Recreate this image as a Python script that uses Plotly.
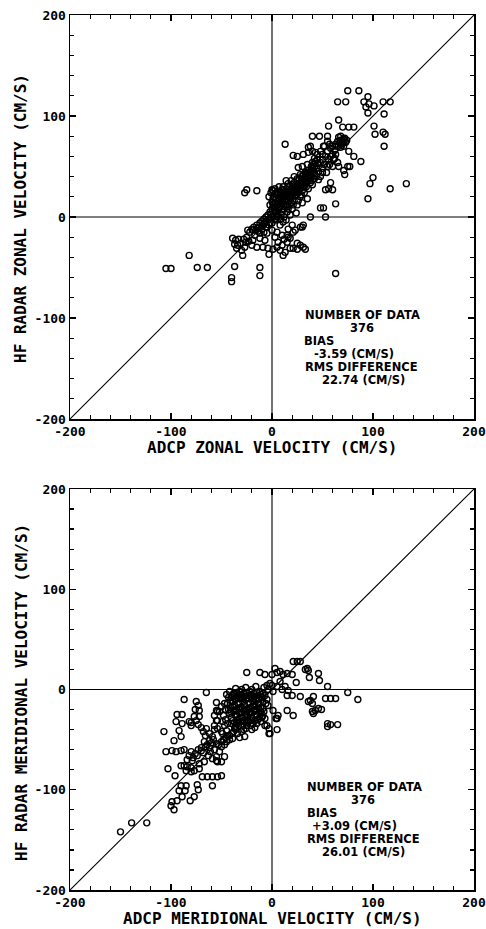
import plotly.graph_objects as go

# ---------------- data ----------------
# Top panel: (ADCP zonal, HF radar zonal) in cm/s
zonal_points = [
    (75,125),(86,125),(65,114),(73,114),(95,119),(91,114),(96,112),(93,109),(101,110),(110,114),
    (117,114),(95,103),(111,102),(66,96),(56,90),(70,89),(76,89),(81,89),(101,90),(110,84),
    (112,82),(102,82),(111,70),(68,80),(70,75),(71,70),(13,72),(40,80),(47,80),(55,80),
    (55,75),(51,70),(76,65),(81,60),(88,55),(75,50),(72,42),(77,50),(71,46),(100,39),
    (97,33),(133,33),(117,28),(95,18),(63,13),(60,27),(53,27),(56,28),(58,34),(48,9),
    (51,9),(38,0),(53,0),(-27,24),(-25,27),(-15,26),
    (-105,-51),(-100,-51),(-82,-38),(-74,-50),(-64,-50),(-37,-49),(-40,-60),(-40,-64),
    (-12,-50),(-12,-58),(63,-56),
    (21,61),(25,60),(31,62),(36,64),(43,64),(48,65),(38,70),(26,49),(30,50),(35,52),
    (40,54),(45,53),(28,42),(33,44),(38,45),(48,54),(50,57),(53,60),(58,60),(56,57),
    (61,57),(65,54),(66,50),(36,69),(40,65),(45,62),(50,62),(55,65),(58,68),(60,70),
    (62,66),(57,72),(52,70),(63,72),(65,75),(68,76),(70,73),(72,78),(66,79),(69,71),
    (73,74),(60,62),(62,58),(45,57),(42,58),(44,48),(46,45),(42,50),(40,46),(50,48),
    (52,52),(55,50),(54,44),(48,40),(44,40),(41,38),(36,40),(32,38),(30,34),(34,36),
    (38,36),(46,37),(50,44),(57,52),(63,62),(60,50),(25,38),(28,30),
    (-4,2),(-2,5),(0,8),(2,10),(3,14),(4,18),(5,22),(6,25),(2,20),(0,15),
    (-2,12),(1,26),(3,28),(5,12),(7,16),(8,20),(9,24),(10,27),(11,18),(12,22),
    (13,25),(14,28),(15,20),(16,24),(17,30),(18,26),(19,22),(20,32),(21,28),(22,34),
    (23,30),(24,26),(25,36),(26,32),(27,38),(28,34),(29,40),(30,36),(31,42),(32,30),
    (33,38),(34,44),(35,40),(36,46),(38,42),(40,48),(42,44),(8,10),(10,14),(12,8),
    (14,12),(16,16),(18,18),(20,20),(22,16),(24,22),(26,24),(28,20),(30,26),(32,24),
    (34,30),(36,28),(38,34),(40,32),(42,38),(10,5),(15,5),(20,8),(25,12),(30,14),
    (35,18),(12,0),(6,3),(18,2),(24,4),(-3,20),(-1,24),(0,27),(4,6),(7,9),
    (9,2),(13,16),(17,12),(21,12),(26,16),(29,22),(31,30),(33,34),(37,38),(16,33),
    (19,36),(22,40),(14,36),(11,30),(7,30),(4,24),(1,18),(-1,0),(3,-2),(27,28),
    (23,24),(19,14),(15,10),
    (1,12),(3,6),(5,9),(7,13),(9,17),(11,21),(13,20),(15,24),(17,26),(19,28),
    (21,24),(23,27),(25,30),(27,33),(29,35),(31,38),(33,41),(35,43),(37,44),(39,50),
    (41,52),(43,55),(6,19),(8,23),(10,21),(14,18),(18,22),(22,25),(26,29),(30,32),
    (34,35),(39,40),(-1,3),(2,1),(5,0),(-3,-2),(16,8),(12,12),(-6,-4),(-8,-6),
    (-10,-9),(-13,-10),(-16,-13),(64,70),(67,73),(71,77),(68,69),(74,76),
    (-39,-21),(-36,-23),(-33,-22),(-37,-27),(-34,-28),(-31,-26),(-35,-31),(-30,-33),(-29,-38),(-27,-30),
    (-25,-20),(-22,-15),(-20,-12),(-18,-10),(-15,-8),(-12,-6),(-10,-4),(-8,-2),(-6,0),(-14,-14),
    (-10,-12),(-6,-10),(-3,-8),(0,-6),(-24,-13),(-19,-13),(-14,-11),(-9,-8),(-5,-10),(-2,-6),
    (-20,-28),(-15,-30),(-9,-30),(-4,-31),(1,-32),(5,-30),(8,-33),(13,-35),(18,-31),(21,-31),
    (25,-32),(31,-30),(33,-32),(15,-18),(18,-21),(23,-13),(28,-10),(31,-8),(20,-8),(8,-8),
    (11,-5),(-17,-18),(-12,-21),(-7,-23),(-19,-23),(-5,-16),(0,-13),(-3,-37),(5,-15),(10,-18),
    (12,-22),(3,-20),(6,-25),(10,-28),(15,-25),(25,-26),(28,-28),(4,-3),(8,-2),(14,-3),
    (16,-12),(-8,-15),(-12,-16),(-26,-25),(-23,-24),(-28,-22),(11,-38),(30,-10),(21,-15),(16,-20),
]

# Bottom panel: (ADCP meridional, HF radar meridional) in cm/s
merid_points = [
    (-150,-142),(-139,-133),(-124,-133),(-100,-116),(-97,-120),(-99,-112),(-94,-111),(-89,-107),(-92,-101),(-86,-101),
    (-90,-96),(-85,-96),(-81,-111),(-77,-107),(-73,-100),(-74,-95),(-59,-96),
    (-103,-79),(-96,-86),(-69,-87),(-64,-87),(-59,-87),(-54,-87),(-50,-86),
    (-107,-42),(-105,-62),(-99,-61),(-95,-62),(-90,-61),(-87,-60),(-92,-41),(-90,-47),(-97,-51),(-89,-34),
    (-95,-32),(-87,-10),(-89,-25),(-94,-25),(-80,-33),
    (-75,-12),(-73,-16),(-76,-20),(-72,-21),(-72,-27),(-77,-27),(-82,-32),(-80,-36),(-75,-31),(-73,-35),
    (-70,-38),(-68,-42),(-66,-46),(-65,-3),
    (-55,-13),(-54,-22),(-55,-31),(-57,-40),(-52,-22),(-57,-26),(-54,-31),(-49,-32),(-50,-17),(-55,-21),
    (-57,-36),(-54,-39),(-50,-42),(-45,-41),(-42,-46),(-39,-49),(-32,-48),(-27,-47),
    (-55,-54),(-50,-57),(-52,-62),(-47,-67),(-55,-67),(-59,-69),(-54,-72),(-50,-72),(-55,-71),
    (-72,-74),(-67,-72),(-72,-79),(-90,-76),(-87,-76),(-84,-77),(-80,-78),(-77,-81),(-80,-82),(-85,-81),
    (-80,-62),(-79,-71),(-74,-66),(-70,-61),(-67,-52),(-62,-51),(-65,-39),(-62,-44),(-59,-47),
    (-84,-70),(-82,-66),(-78,-68),(-76,-64),(-73,-60),(-70,-58),(-68,-63),(-66,-57),(-64,-55),(-62,-58),
    (-60,-53),(-58,-50),(-63,-66),(-61,-62),(-57,-60),(-53,-55),(-50,-52),(-48,-50),(-46,-48),(-44,-46),
    (-47,-55),(-45,-52),(-42,-50),(-40,-44),(-38,-42),(-36,-40),(-34,-44),(-30,-42),(-28,-40),
    (-47,-14),(-46,-20),(-48,-26),(-46,-30),(-47,-36),(-44,-34),(-49,-44),
    (-45,-5),(-42,-2),(-40,-8),(-38,-4),(-36,-10),(-34,-6),(-32,-2),(-30,-8),(-28,-4),(-26,-10),
    (-24,-6),(-22,-2),(-20,-8),(-18,-4),(-16,-10),(-14,-6),(-12,-2),(-10,-8),
    (-44,-14),(-41,-18),(-39,-12),(-37,-16),(-35,-20),(-33,-14),(-31,-18),(-29,-12),(-27,-16),(-25,-20),
    (-23,-14),(-21,-18),(-19,-12),(-17,-16),(-15,-20),(-13,-14),(-11,-18),(-9,-12),
    (-42,-24),(-40,-28),(-38,-22),(-36,-26),(-34,-30),(-32,-24),(-30,-28),(-28,-22),(-26,-26),(-24,-30),
    (-22,-24),(-20,-28),(-18,-22),(-16,-26),(-14,-30),(-12,-24),(-10,-28),
    (-40,-34),(-37,-38),(-35,-33),(-33,-36),(-31,-32),(-29,-36),(-27,-32),(-25,-36),(-23,-32),(-21,-36),
    (-19,-34),(-17,-38),(-15,-34),
    (-43,-8),(-41,-11),(-39,-6),(-37,-9),(-35,-3),(-33,-9),(-31,-5),(-29,-9),(-27,-7),(-25,-3),
    (-23,-9),(-21,-5),(-19,-9),(-17,-7),(-15,-3),(-13,-9),(-11,-5),(-9,-4),(-43,-20),(-41,-22),
    (-39,-17),(-37,-21),(-35,-25),(-33,-19),(-31,-23),(-29,-19),(-27,-21),(-25,-25),(-23,-19),(-21,-23),
    (-19,-17),(-17,-21),(-15,-25),(-13,-19),(-11,-23),(-9,-19),(-39,-31),(-37,-33),(-33,-33),(-29,-31),
    (-25,-33),(-21,-31),(-17,-31),(-13,-29),(-11,-32),(-36,-37),(-26,-39),(-20,-40),(-8,-22),(-6,-14),
    (-7,-6),(-5,-10),
    (-30,0),(-26,2),(-20,0),(-16,3),(-36,1),
    (-12,17),(-7,15),(0,15),(5,17),(8,18),(11,15),(15,16),(20,15),(-25,17),(3,21),
    (21,28),(25,28),(28,28),(33,20),(36,19),(46,16),(35,21),(37,12),(47,9),(24,7),
    (55,3),(75,-3),(85,-10),(53,-9),(58,-9),(63,-9),(41,-7),(38,-11),(36,-12),(40,-14),
    (28,-7),(20,-6),(16,-1),(13,3),(40,-22),(43,-21),(46,-19),(49,-20),(41,-24),(55,-34),
    (58,-35),(65,-35),(55,-37),(15,-21),(21,-26),(15,-6),(-4,-16),(1,-21),(5,-29),(5,-40),
    (-2,-44),(-7,-36),(-9,-26),(-7,-29),(-5,4),(-2,6),(1,-2),(5,3),(-3,-39),(-5,-36),
    (-3,-44),(6,-26),(4,-29),(-8,2),(-4,0),(0,4),(8,8),(10,0),
]

axis_ticks = [-200, -100, 0, 100, 200]
axis_range = [-200, 200]

top_stats = [("NUMBER OF DATA", 31, -97), ("376", 75, -110), ("BIAS", 30, -123),
             ("-3.59 (CM/S)", 40, -136), ("RMS DIFFERENCE", 31, -149), ("22.74 (CM/S)", 48, -161)]
bottom_stats = [("NUMBER OF DATA", 33, -97), ("376", 76, -110), ("BIAS", 33, -123),
                ("+3.09 (CM/S)", 38, -136), ("RMS DIFFERENCE", 33, -149), ("26.01 (CM/S)", 48, -162)]

top_xtitle = "ADCP ZONAL VELOCITY (CM/S)"
top_ytitle = "HF RADAR ZONAL VELOCITY (CM/S)"
bot_xtitle = "ADCP MERIDIONAL VELOCITY (CM/S)"
bot_ytitle = "HF RADAR MERIDIONAL VELOCITY (CM/S)"

# ---------------- figure ----------------
W, H = 486, 929
MONO = "DejaVu Sans Mono"
SANS = "DejaVu Sans"

fig = go.Figure()

def add_panel(points, xa, ya):
    xs = [p[0] for p in points]
    ys = [p[1] for p in points]
    fig.add_trace(go.Scatter(
        x=xs, y=ys, mode="markers", xaxis=xa, yaxis=ya, showlegend=False,
        marker=dict(symbol="circle-open", size=6, color="black", line=dict(width=1.4, color="black")),
    ))

add_panel(zonal_points, "x", "y")
add_panel(merid_points, "x2", "y2")

xdom = [70 / W, 474 / W]
top_dom = [1 - 419 / H, 1 - 15 / H]
bot_dom = [1 - 890 / H, 1 - 489 / H]

def axis_style(domain, anchor):
    return dict(
        domain=domain, anchor=anchor, range=axis_range, tickvals=axis_ticks,
        ticktext=[str(v) for v in axis_ticks], automargin=False,
        showgrid=False, zeroline=False, showline=True, mirror="ticks",
        linecolor="black", linewidth=1.5, ticks="inside", ticklen=6, tickwidth=1.3,
        tickcolor="black",
        minor=dict(dtick=20, ticks="inside", ticklen=4, tickwidth=1.2, tickcolor="black", showgrid=False),
        tickfont=dict(family=MONO, size=13, color="black", weight="bold"),
        fixedrange=True,
    )

fig.update_layout(
    template="none",
    width=W, height=H, margin=dict(l=0, r=0, t=0, b=0, autoexpand=False),
    paper_bgcolor="white", plot_bgcolor="white",
    xaxis=axis_style(xdom, "y"),
    yaxis=axis_style(top_dom, "x"),
    xaxis2=axis_style(xdom, "y2"),
    yaxis2=axis_style(bot_dom, "x2"),
)

shapes = []
for xr, yr in (("x", "y"), ("x2", "y2")):
    line = dict(color="black", width=1.1)
    shapes.append(dict(type="line", xref=xr, yref=yr, x0=-200, y0=-200, x1=200, y1=200, line=line))
    shapes.append(dict(type="line", xref=xr, yref=yr, x0=0, y0=-200, x1=0, y1=200, line=line))
    shapes.append(dict(type="line", xref=xr, yref=yr, x0=-200, y0=0, x1=200, y1=0, line=line))
fig.update_layout(shapes=shapes)

anns = []
stat_font = dict(family=SANS, size=11.5, color="black", weight="bold")
for stats, xr, yr in ((top_stats, "x", "y"), (bottom_stats, "x2", "y2")):
    for txt, x, y in stats:
        anns.append(dict(text=txt, x=x, y=y, xref=xr, yref=yr, xanchor="left", yanchor="middle",
                         showarrow=False, font=stat_font))

title_font = dict(family=MONO, size=16, color="black", weight="bold")
anns.append(dict(text=top_xtitle, x=272 / W, y=1 - 447 / H, xref="paper", yref="paper",
                 xanchor="center", yanchor="middle", showarrow=False, font=title_font))
anns.append(dict(text=bot_xtitle, x=272 / W, y=1 - 918 / H, xref="paper", yref="paper",
                 xanchor="center", yanchor="middle", showarrow=False, font=title_font))
anns.append(dict(text=top_ytitle, x=21 / W, y=1 - 219 / H, xref="paper", yref="paper",
                 xanchor="center", yanchor="middle", textangle=-90, showarrow=False, font=title_font))
anns.append(dict(text=bot_ytitle, x=21 / W, y=1 - 693 / H, xref="paper", yref="paper",
                 xanchor="center", yanchor="middle", textangle=-90, showarrow=False, font=title_font))
fig.update_layout(annotations=anns)

fig.write_html(
    "out.html",
    config={"displayModeBar": False, "staticPlot": True},
    post_script="document.body.style.margin='0px';document.body.style.overflow='hidden';",
)
